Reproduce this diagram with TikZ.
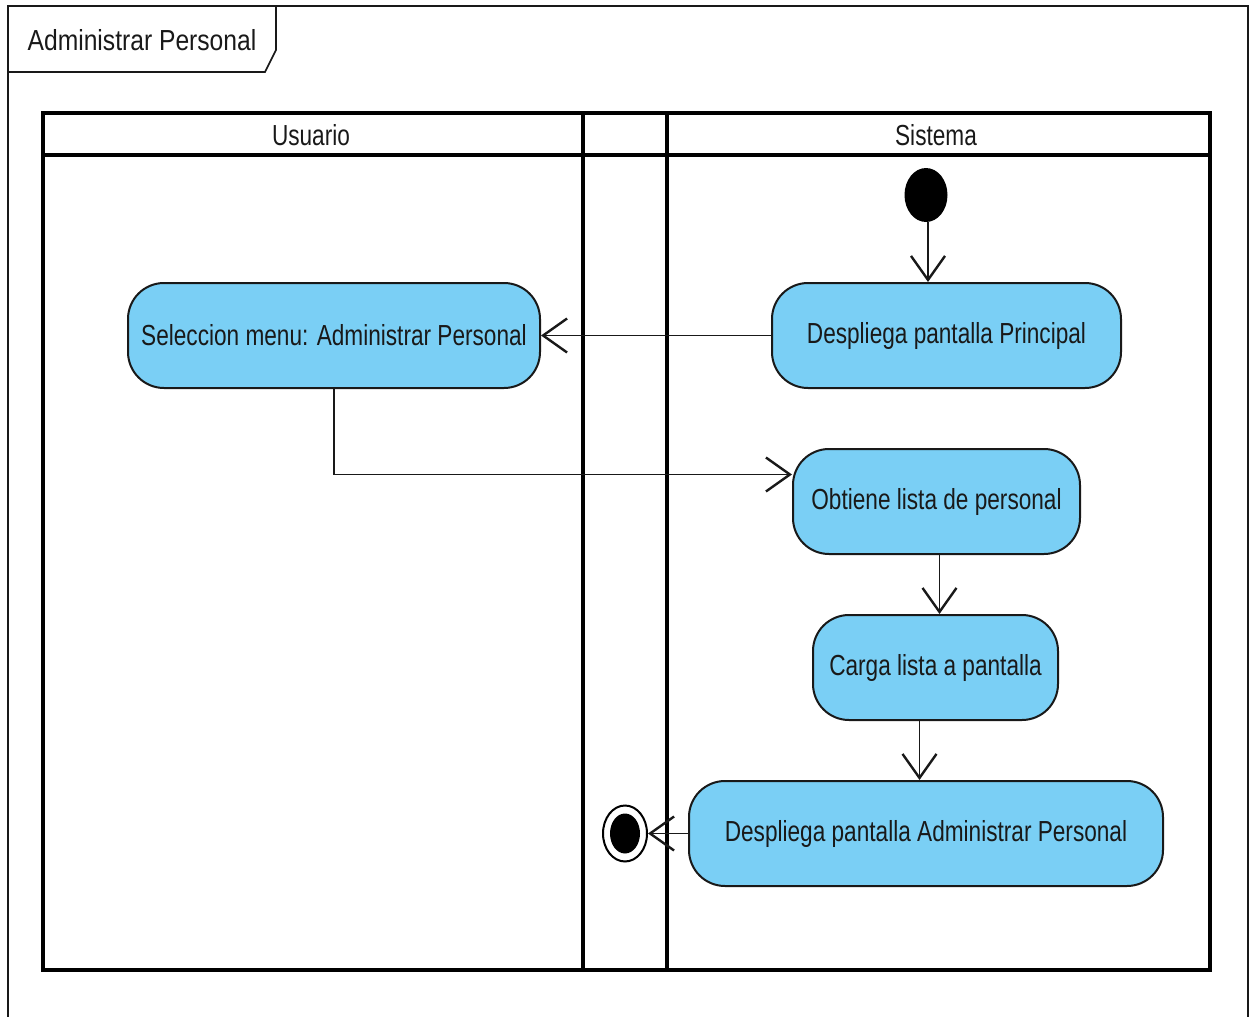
\documentclass[tikz,border=0pt]{standalone}
\usepackage{fontspec}
\setmainfont{Liberation Sans}[FakeStretch=0.78]
\newfontfamily\tabfont{Liberation Sans}[FakeStretch=0.85]
\usetikzlibrary{arrows.meta,shapes.geometric}
\definecolor{actfill}{RGB}{122,207,245}
\definecolor{ink}{RGB}{25,25,25}
\begin{document}
\begin{tikzpicture}[x=1pt,y=-1pt,
  action/.style={draw=ink, line width=2pt, fill=actfill, rounded corners=36pt,
    inner sep=0pt, minimum height=105pt, font=\fontsize{29}{31}\selectfont, text=ink},
  flow/.style={draw=ink, line width=1.8pt,
    -{Straight Barb[length=24pt,width=34pt,line width=2.4pt]}},
  lane/.style={line width=4pt, draw=black},
  header/.style={font=\fontsize{29}{31}\selectfont, text=ink, inner sep=0pt},
  frame/.style={line width=2pt, draw=ink}]
\useasboundingbox (0,0) rectangle (1251,1017);
% outer frame and tab
\draw[frame] (8,1017) -- (8,6) -- (1248,6) -- (1248,1017);
\draw[line width=1.6pt, draw=ink] (8,72) -- (265,72) -- (276,50) -- (276,6);
\node[font=\tabfont\fontsize{29}{31}\selectfont, text=ink, inner sep=0pt] (title) at (142,40) {Administrar Personal};
% swimlanes
\draw[lane] (43,113) rectangle (1210,970);
\draw[lane] (43,155) -- (1210,155);
\draw[lane] (583,113) -- (583,970);
\draw[lane] (667,113) -- (667,970);
\node[header] (hU) at (311,135) {Usuario};
\node[header] (hS) at (936,135) {Sistema};
% nodes
\node[ellipse, fill=black, inner sep=0pt, minimum width=43pt, minimum height=54pt] (init) at (926,195) {};
\node[action, minimum width=412pt] (sel) at (334,335.5) {Seleccion menu: Administrar Personal};
\node[action, minimum width=349pt] (desp1) at (946.5,335.5) {Despliega pantalla Principal};
\node[action, minimum width=287pt] (obt) at (936.5,501.5) {Obtiene lista de personal};
\node[action, minimum width=245pt] (carga) at (935.5,667.5) {Carga lista a pantalla};
\node[action, minimum width=474pt] (admin) at (926,833.5) {Despliega pantalla Administrar Personal};
\node[ellipse, draw=black, line width=2pt, fill=white, inner sep=0pt, minimum width=44pt, minimum height=56pt] (fin) at (625,833.5) {};
\fill[black] (fin.center) ellipse [x radius=15pt, y radius=20pt];
% flows
\draw[flow] ([xshift=2pt]init.south) -- ([xshift=2pt]init.south |- desp1.north);
\draw[flow] (desp1.west) -- (sel.east);
\draw[flow] (sel.south) |- ([yshift=27pt]obt.west);
\draw[flow] ([xshift=3pt]obt.south) -- ([xshift=3pt]obt.south |- carga.north);
\draw[flow] ([xshift=-16pt]carga.south) -- ([xshift=-16pt]carga.south |- admin.north);
\draw[flow] (admin.west) -- (fin.east);
\end{tikzpicture}
\end{document}
